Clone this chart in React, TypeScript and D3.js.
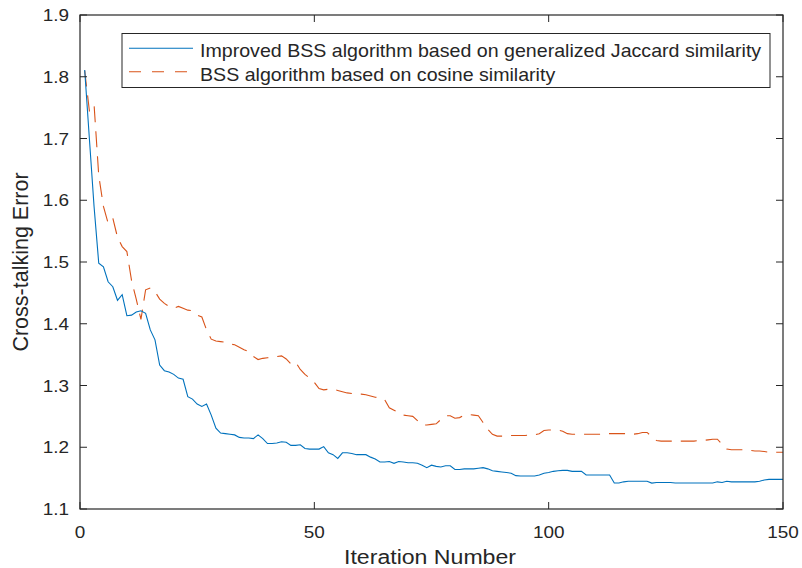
import React from 'react';
import * as d3 from 'd3';

// ---------- data ----------
const seriesNames = [
  'Improved BSS algorithm based on generalized Jaccard similarity',
  'BSS algorithm based on cosine similarity',
];

const jaccardError = [
  1.811, 1.70, 1.59, 1.498, 1.492, 1.468, 1.46, 1.438, 1.447, 1.413,
  1.414, 1.419, 1.421, 1.417, 1.39, 1.374, 1.333, 1.324, 1.322, 1.318,
  1.312, 1.310, 1.282, 1.278, 1.27, 1.266, 1.27, 1.252, 1.231, 1.223,
  1.222, 1.221, 1.22, 1.216, 1.215, 1.215, 1.214, 1.22, 1.214, 1.206,
  1.206, 1.207, 1.209, 1.208, 1.203, 1.203, 1.204, 1.198, 1.197, 1.197,
  1.197, 1.201, 1.191, 1.188, 1.182, 1.191, 1.191, 1.19, 1.188, 1.188,
  1.188, 1.184, 1.181, 1.176, 1.176, 1.177, 1.174, 1.177, 1.176, 1.175,
  1.175, 1.174, 1.171, 1.167, 1.171, 1.169, 1.168, 1.170, 1.170, 1.164,
  1.164, 1.165, 1.165, 1.165, 1.166, 1.167, 1.165, 1.162, 1.161, 1.160,
  1.159, 1.158, 1.154, 1.1535, 1.1535, 1.1535, 1.1535, 1.155, 1.158, 1.159,
  1.161, 1.162, 1.1625, 1.1625, 1.161, 1.161, 1.161, 1.155, 1.155, 1.155,
  1.155, 1.155, 1.155, 1.142, 1.142, 1.144, 1.145, 1.145, 1.145, 1.145,
  1.145, 1.142, 1.143, 1.143, 1.143, 1.143, 1.142, 1.142, 1.142, 1.142,
  1.142, 1.142, 1.142, 1.142, 1.142, 1.144, 1.143, 1.145, 1.144, 1.144,
  1.144, 1.144, 1.144, 1.144, 1.145, 1.147, 1.148, 1.148, 1.148, 1.148,
];

const cosineError = [
  1.81, 1.745, 1.755, 1.64, 1.59, 1.563, 1.571, 1.54, 1.525, 1.517,
  1.47, 1.44, 1.407, 1.455, 1.458, 1.452, 1.44, 1.433, 1.428, 1.425,
  1.428, 1.425, 1.422, 1.421, 1.414, 1.411, 1.39, 1.375, 1.372, 1.371,
  1.37, 1.367, 1.366, 1.362, 1.358, 1.355, 1.347, 1.342, 1.344, 1.345,
  1.346, 1.347, 1.348, 1.343, 1.335, 1.338, 1.326, 1.318, 1.312, 1.305,
  1.295, 1.293, 1.294, 1.294, 1.292, 1.290, 1.288, 1.287, 1.286, 1.286,
  1.285, 1.283, 1.281, 1.280, 1.277, 1.264, 1.260, 1.256, 1.252, 1.251,
  1.25, 1.243, 1.236, 1.236, 1.237, 1.238, 1.245, 1.251, 1.251, 1.247,
  1.248, 1.252, 1.253, 1.252, 1.251, 1.24, 1.229, 1.221, 1.218, 1.218,
  1.218, 1.219, 1.219, 1.219, 1.219, 1.22, 1.22, 1.222, 1.227, 1.228,
  1.228, 1.228, 1.226, 1.222, 1.221, 1.221, 1.221, 1.221, 1.221, 1.221,
  1.221, 1.222, 1.222, 1.222, 1.222, 1.222, 1.222, 1.221, 1.222, 1.224,
  1.224, 1.217, 1.211, 1.21, 1.21, 1.21, 1.21, 1.21, 1.21, 1.21,
  1.21, 1.211, 1.211, 1.212, 1.213, 1.213, 1.205, 1.197, 1.196, 1.196,
  1.196, 1.196, 1.195, 1.194, 1.194, 1.193, 1.192, 1.192, 1.192, 1.192,
];

const xTicks = [0, 50, 100, 150];
const yTicks = [1.1, 1.2, 1.3, 1.4, 1.5, 1.6, 1.7, 1.8, 1.9];
const yTickLabels = ['1.1', '1.2', '1.3', '1.4', '1.5', '1.6', '1.7', '1.8', '1.9'];
const xLabel = 'Iteration Number';
const yLabel = 'Cross-talking Error';

// ---------- layout ----------
const W = 802;
const H = 568;
const L = 80;
const R = 783;
const T = 15;
const B = 509;
const AX = '#262626';
const BLUE = '#0072BD';
const ORANGE = '#D95319';
const FONT = '"Liberation Sans", Arial, Helvetica, sans-serif';
const SX = 1.1;
const TICK = 7;

function Txt({ x, y, size, anchor = 'start', sx = SX, children }: any) {
  return (
    <text
      transform={`translate(${x},${y}) scale(${sx},1)`}
      textAnchor={anchor}
      fontFamily={FONT}
      fontSize={size}
      fill={AX}
    >
      {children}
    </text>
  );
}

export default function App() {
  const x = d3.scaleLinear().domain([0, 150]).range([L, R]);
  const y = d3.scaleLinear().domain([1.1, 1.9]).range([B, T]);

  const line = d3
    .line<number>()
    .x((_, i) => x(i + 1))
    .y((d) => y(d));

  const pathJ = line(jaccardError) || '';
  const pathC = line(cosineError) || '';

  return (
    <svg
      width={W}
      height={H}
      style={{ position: 'absolute', left: 0, top: 0, background: '#fff' }}
    >
      <rect x={0} y={0} width={W} height={H} fill="#fff" />

      <path d={pathC} fill="none" stroke={ORANGE} strokeWidth={1.1} strokeDasharray="16 9" />
      <path d={pathJ} fill="none" stroke={BLUE} strokeWidth={1.1} />

      {/* axes box */}
      <rect x={L} y={T} width={R - L} height={B - T} fill="none" stroke={AX} strokeWidth={1.2} />

      {/* y ticks */}
      {yTicks.map((t, i) => (
        <g key={'y' + i}>
          <line x1={L} x2={L + TICK} y1={y(t)} y2={y(t)} stroke={AX} strokeWidth={1} />
          <line x1={R} x2={R - TICK} y1={y(t)} y2={y(t)} stroke={AX} strokeWidth={1} />
          <Txt x={69} y={y(t) + 6.2} size={17.2} anchor="end">
            {yTickLabels[i]}
          </Txt>
        </g>
      ))}

      {/* x ticks */}
      {xTicks.map((t, i) => (
        <g key={'x' + i}>
          <line x1={x(t)} x2={x(t)} y1={B} y2={B - TICK} stroke={AX} strokeWidth={1} />
          <line x1={x(t)} x2={x(t)} y1={T} y2={T + TICK} stroke={AX} strokeWidth={1} />
          <Txt x={x(t)} y={537.5} size={17.2} anchor="middle">
            {String(t)}
          </Txt>
        </g>
      ))}

      {/* axis labels */}
      <Txt x={430} y={564} size={21} anchor="middle">
        {xLabel}
      </Txt>
      <text
        transform={`translate(28,262) rotate(-90)`}
        textAnchor="middle"
        fontFamily={FONT}
        fontSize={21.5}
        fill={AX}
      >
        {yLabel}
      </text>

      {/* legend */}
      <rect x={122} y={33.5} width={648} height={54} fill="#fff" stroke={AX} strokeWidth={1} />
      <line x1={129} x2={193} y1={48.3} y2={48.3} stroke={BLUE} strokeWidth={1.1} />
      <line x1={129} x2={193} y1={71.7} y2={71.7} stroke={ORANGE} strokeWidth={1.1} strokeDasharray="12 11" />
      <Txt x={200} y={56.7} size={18} sx={1.09}>
        {seriesNames[0]}
      </Txt>
      <Txt x={200} y={80.7} size={18} sx={1.09}>
        {seriesNames[1]}
      </Txt>
    </svg>
  );
}
